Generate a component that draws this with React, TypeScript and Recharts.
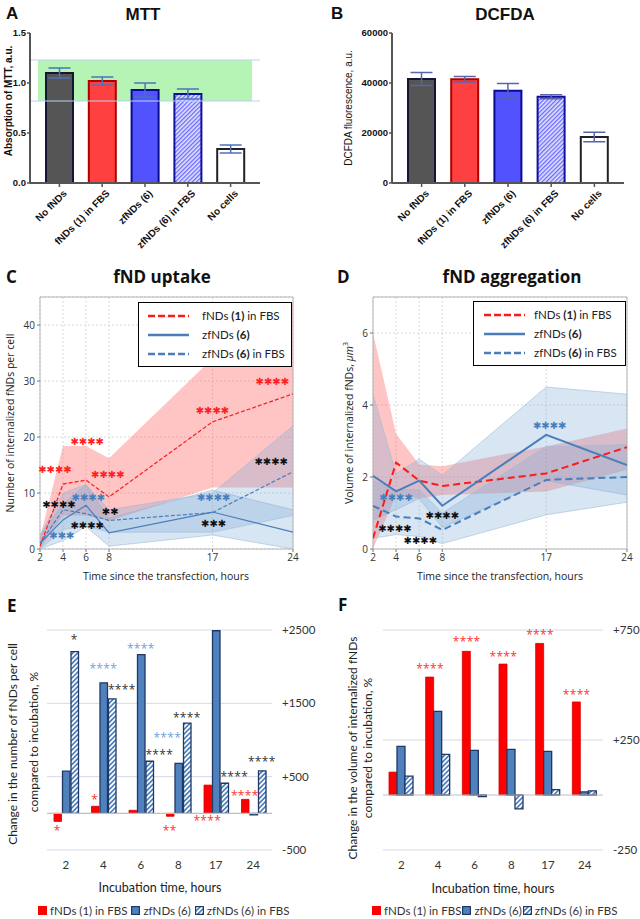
import React from 'react';
import {
  BarChart, Bar, XAxis, YAxis, ErrorBar, Cell, ReferenceArea, ReferenceDot, ReferenceLine,
  ComposedChart, Area, Line, CartesianGrid, Legend,
} from 'recharts';

const ARIAL = '"Liberation Sans", Arial, sans-serif';
const OPEN = '"Open Sans", "DejaVu Sans", sans-serif';
const LATO = 'Lato, "Open Sans", sans-serif';
const SYMBOL = '"DejaVu Sans", sans-serif';

// ===================== DATA =====================
// Panels A & B
const treatments = ['No fNDs', 'fNDs (1) in FBS', 'zfNDs (6)', 'zfNDs (6) in FBS', 'No cells'];
const mttMean = [1.10, 1.02, 0.93, 0.89, 0.34];
const mttSd = [0.05, 0.04, 0.07, 0.05, 0.04];
const mttTicks = [0, 0.5, 1.0, 1.5];
const viabilityRange = [0.82, 1.23];
const dcfdaMean = [41600, 41500, 36900, 34500, 18400];
const dcfdaSd = [2600, 1100, 2900, 800, 1900];
const dcfdaTicks = [0, 20000, 40000, 60000];

// Panels C & D
const hours = [2, 4, 6, 8, 17, 24];
const lineSeries = ['fNDs (1) in FBS', 'zfNDs (6)', 'zfNDs (6) in FBS'];

const uptakeF1 = [0.5, 11.6, 12.3, 9.3, 22.7, 27.7];
const uptakeF1Lo = [0, 6, 6, 5, 11, 11];
const uptakeF1Hi = [2, 18.4, 18.4, 16.2, 34, 44];
const uptakeZ6 = [1.0, 5.2, 7.8, 2.9, 6.6, 3.0];
const uptakeZ6Lo = [0, 1.5, 4, 0.5, 2.5, 0];
const uptakeZ6Hi = [2.5, 8, 11.5, 5.5, 10.5, 7];
const uptakeZ6F = [1.0, 7.0, 6.3, 5.1, 6.5, 13.8];
const uptakeZ6FLo = [0, 3.5, 4, 3, 3, 6];
const uptakeZ6FHi = [2.5, 10, 11.5, 7, 10, 22];
const uptakeTicks = [0, 10, 20, 30, 40];

const volF1 = [0.3, 2.4, 1.9, 1.75, 2.1, 2.83];
const volF1Lo = [0, 1.5, 1.4, 1.5, 1.6, 2.2];
const volF1Hi = [6.0, 3.2, 2.35, 2.3, 2.85, 3.35];
const volZ6 = [2.03, 1.6, 1.9, 1.2, 3.17, 2.33];
const volZ6Lo = [0.8, 1.1, 1.4, 0.6, 1.9, 1.5];
const volZ6Hi = [4.3, 2.1, 2.5, 2.05, 4.5, 4.3];
const volZ6F = [1.2, 0.9, 0.85, 0.53, 1.92, 2.0];
const volZ6FLo = [0.3, 0.4, 0.35, 0.15, 0.95, 1.3];
const volZ6FHi = [1.9, 1.65, 1.65, 1.0, 2.85, 2.9];
const volTicks = [0, 2, 4, 6];

// significance marks: time, value, text, group
const uptakeStars = [
  { t: 3.3, v: 14.3, text: '****', group: 'fnd1' },
  { t: 6.1, v: 19.3, text: '****', group: 'fnd1' },
  { t: 7.9, v: 13.4, text: '****', group: 'fnd1' },
  { t: 17.0, v: 24.8, text: '****', group: 'fnd1' },
  { t: 22.2, v: 30.0, text: '****', group: 'fnd1' },
  { t: 22.1, v: 15.7, text: '****', group: 'pair' },
  { t: 3.65, v: 7.9, text: '****', group: 'pair' },
  { t: 6.2, v: 9.3, text: '****', group: 'zf6' },
  { t: 8.1, v: 6.8, text: '**', group: 'pair' },
  { t: 6.1, v: 4.3, text: '****', group: 'pair' },
  { t: 3.9, v: 2.5, text: '***', group: 'zf6' },
  { t: 17.1, v: 9.3, text: '****', group: 'zf6' },
  { t: 17.1, v: 4.5, text: '***', group: 'pair' },
];
const volStars = [
  { t: 17.3, v: 3.42, text: '****', group: 'zf6' },
  { t: 4.0, v: 1.44, text: '****', group: 'zf6' },
  { t: 8.0, v: 0.92, text: '****', group: 'pair' },
  { t: 3.9, v: 0.56, text: '****', group: 'pair' },
  { t: 6.1, v: 0.25, text: '****', group: 'pair' },
];

// Panels E & F
const incubation = ['2', '4', '6', '8', '17', '24'];
const barSeries = ['fNDs (1) in FBS', 'zfNDs (6)', 'zfNDs (6) in FBS'];
const countF1 = [-110, 96, 41, -40, 385, 190];
const countZ6 = [575, 1780, 2165, 680, 2490, -20];
const countZ6F = [2205, 1560, 710, 1230, 410, 580];
const countTicks = [-500, 500, 1500, 2500];
const volChgF1 = [104, 536, 653, 595, 689, 423];
const volChgZ6 = [221, 380, 203, 207, 198, 14];
const volChgZ6F = [86, 185, -7, -63, 24, 19];
const volChgTicks = [-250, 250, 750];

const countStars = [
  { cat: '2', series: 'z6f', v: 2410, text: '*', group: 'pair', side: 'top' },
  { cat: '4', series: 'z6', v: 2014, text: '****', group: 'zf6', side: 'top' },
  { cat: '4', series: 'z6f', v: 1726, text: '****', group: 'pair', side: 'right' },
  { cat: '6', series: 'z6', v: 2288, text: '****', group: 'zf6', side: 'top' },
  { cat: '17', series: 'z6', v: 2630, text: '****', group: 'zf6', side: 'top' },
  { cat: '8', series: 'z6f', v: 1342, text: '****', group: 'pair', side: 'top' },
  { cat: '8', series: 'z6', v: 1070, text: '****', group: 'zf6', side: 'left' },
  { cat: '6', series: 'z6f', v: 840, text: '****', group: 'pair', side: 'right' },
  { cat: '17', series: 'z6f', v: 534, text: '****', group: 'pair', side: 'right' },
  { cat: '24', series: 'z6f', v: 740, text: '****', group: 'pair', side: 'top' },
  { cat: '24', series: 'f1', v: 274, text: '****', group: 'fnd1', side: 'top' },
  { cat: '4', series: 'f1', v: 219, text: '*', group: 'fnd1', side: 'top' },
  { cat: '2', series: 'f1', v: -205, text: '*', group: 'fnd1', side: 'top' },
  { cat: '8', series: 'f1', v: -205, text: '**', group: 'fnd1', side: 'top' },
  { cat: '17', series: 'f1', v: -68, text: '****', group: 'fnd1', side: 'top' },
];
const volChgStars = [
  { cat: '4', series: 'f1', v: 585, text: '****', group: 'fnd1', side: 'top' },
  { cat: '6', series: 'f1', v: 707, text: '****', group: 'fnd1', side: 'top' },
  { cat: '8', series: 'f1', v: 640, text: '****', group: 'fnd1', side: 'top' },
  { cat: '17', series: 'f1', v: 739, text: '****', group: 'fnd1', side: 'top' },
  { cat: '24', series: 'f1', v: 468, text: '****', group: 'fnd1', side: 'top' },
];

// ===================== STYLES =====================
const treatmentFillA = ['#555555', '#ff4040', '#5252ff', 'url(#hatchA)', '#ffffff'];
const treatmentFillB = ['#555555', '#ff4040', '#5252ff', 'url(#hatchB)', '#ffffff'];
const treatmentStroke = ['#151535', '#b00000', '#0a0a90', '#1010a0', '#222222'];
const lineColors = ['#ff1a1a', '#4a7ebb', '#4a7ebb'];
const lineDashes = ['7 3', undefined, '7 3'];
const starColorCD: Record<string, string> = { fnd1: '#ff2020', zf6: '#4a7ebb', pair: '#111111' };
const starColorEF: Record<string, string> = { fnd1: '#ff3030', zf6: '#6f9fdc', pair: '#333333' };
const seriesIndex: Record<string, number> = { f1: 0, z6: 1, z6f: 2 };
const sideShift: Record<string, number> = { top: 0, right: 10, left: -11 };

// ===================== HELPERS =====================
function RichName({ name }: { name: string }) {
  const parts = name.split(/(\(\d+\))/);
  return (
    <>
      {parts.map((p, i) => (/^\(\d+\)$/.test(p) ? <b key={i}>{p}</b> : <span key={i}>{p}</span>))}
    </>
  );
}

function AngledTick(props: any) {
  const { x, y, payload } = props;
  const ax = x + 3;
  const ay = y;
  return (
    <text x={ax} y={ay} transform={`rotate(-45 ${ax} ${ay})`} textAnchor="end" dominantBaseline="hanging"
      fontFamily={ARIAL} fontWeight={700} fontSize={10} fill="#111">
      {payload.value}
    </text>
  );
}

function TreatmentChart({ means, sds, ticks, fmt, yWidth, marginRight, band, fills, hatchId, errColor }: any) {
  const data = treatments.map((name, i) => ({ name, mean: means[i], sd: sds[i] }));
  return (
    <BarChart width={320} height={256} data={data} margin={{ top: 33, right: marginRight, bottom: 0, left: 0 }}>
      <defs>
        <pattern id={hatchId} width={3} height={3} patternUnits="userSpaceOnUse" patternTransform="rotate(45)">
          <rect width={3} height={3} fill="#e2e3ff" />
          <rect width={1.3} height={3} fill="#6a6aff" />
        </pattern>
      </defs>
      {band && <ReferenceArea y1={band[0]} y2={band[1]} fill="#aef3ae" fillOpacity={0.9} stroke="none" />}
      {band && <ReferenceLine y={band[0]} stroke="#b9d3ee" strokeWidth={1} />}
      {band && <ReferenceLine y={band[1]} stroke="#b9d3ee" strokeWidth={1} />}
      <XAxis dataKey="name" interval={0} height={73} padding={{ left: 8, right: 8 }} tick={<AngledTick />}
        tickSize={4} axisLine={{ stroke: '#555', strokeWidth: 2 }} tickLine={{ stroke: '#555', strokeWidth: 1.5 }} />
      <YAxis width={yWidth} domain={[0, ticks[ticks.length - 1]]} ticks={ticks} interval={0} tickFormatter={fmt}
        tickSize={3} tickMargin={1} axisLine={{ stroke: '#555', strokeWidth: 2 }} tickLine={{ stroke: '#555', strokeWidth: 1.5 }}
        tick={{ fontFamily: ARIAL, fontWeight: 700, fontSize: 9.5, fill: '#111' }} />
      <Bar dataKey="mean" barSize={27} strokeWidth={2} isAnimationActive={false}>
        {data.map((d, i) => (
          <Cell key={d.name} fill={fills[i]} stroke={treatmentStroke[i]} />
        ))}
        <ErrorBar dataKey="sd" width={11} stroke={errColor} strokeWidth={1.5} />
      </Bar>
    </BarChart>
  );
}

function LineLegend({ sampleLeft, sampleWidth, textLeft, strokeW }: any) {
  return (
    <div style={{ border: '1px solid #000', background: '#fff', padding: '3px 0 3px 0', fontFamily: LATO, fontSize: 11.5, color: '#222', boxSizing: 'border-box' }}>
      {lineSeries.map((n, i) => (
        <div key={n} style={{ display: 'flex', alignItems: 'center', height: 19, whiteSpace: 'nowrap' }}>
          <svg width={textLeft} height={8} style={{ flex: 'none' }}>
            <line x1={sampleLeft} y1={4} x2={sampleLeft + sampleWidth} y2={4} stroke={lineColors[i]} strokeWidth={strokeW}
              strokeDasharray={lineDashes[i]} />
          </svg>
          <span><RichName name={n} /></span>
        </div>
      ))}
    </div>
  );
}

function starText(s: string) {
  return s.replace(/\*/g, '\u2731');
}

function TimeCourse({ rows, yMax, yTicks, stars, lineW, dash, legendPos, legendCfg, rightMargin, yWidth }: any) {
  return (
    <ComposedChart width={320} height={350} data={rows} margin={{ top: 57, right: rightMargin, left: 0, bottom: 0 }}>
      <CartesianGrid stroke="#d9d9d9" strokeDasharray="2 2" />
      <XAxis dataKey="t" type="number" domain={[2, 24]} ticks={hours} interval={0} allowDataOverflow height={41}
        axisLine={false} tickSize={3} tickMargin={2} tickLine={{ stroke: '#777' }}
        tick={{ fontFamily: OPEN, fontSize: 10, fill: '#333' }} />
      <YAxis type="number" domain={[0, yMax]} ticks={yTicks} interval={0} allowDataOverflow width={yWidth}
        axisLine={false} tickSize={3} tickMargin={2} tickLine={{ stroke: '#777' }}
        tick={{ fontFamily: OPEN, fontSize: 10, fill: '#333' }} />
      <Area type="linear" dataKey="f1Band" stroke="none" fill="#ff5c5c" fillOpacity={0.36} isAnimationActive={false} />
      <Area type="linear" dataKey="z6Band" stroke="#9dbcdc" strokeWidth={0.6} fill="#7fa8d4" fillOpacity={0.3} isAnimationActive={false} />
      <Area type="linear" dataKey="z6fBand" stroke="#9dbcdc" strokeWidth={0.6} fill="#7fa8d4" fillOpacity={0.3} isAnimationActive={false} />
      <Line type="linear" dataKey="f1" stroke={lineColors[0]} strokeWidth={lineW} strokeDasharray={dash} dot={false} isAnimationActive={false} />
      <Line type="linear" dataKey="z6" stroke={lineColors[1]} strokeWidth={lineW} dot={false} isAnimationActive={false} />
      <Line type="linear" dataKey="z6f" stroke={lineColors[2]} strokeWidth={lineW} strokeDasharray={dash} dot={false} isAnimationActive={false} />
      <ReferenceArea x1={2} x2={24} y1={0} y2={yMax} fill="none" stroke="#b5b5b5" strokeWidth={1} />
      {stars.map((s: any, i: number) => (
        <ReferenceDot key={i} x={s.t} y={s.v} r={0}
          shape={(p: any) => (
            <text x={p.cx} y={p.cy + 3.6} textAnchor="middle" fontFamily={SYMBOL} fontSize={10} fill={starColorCD[s.group]}>
              {starText(s.text)}
            </text>
          )} />
      ))}
      <Legend layout="vertical" align="center" verticalAlign="middle"
        wrapperStyle={{ left: legendPos.left, top: legendPos.top, width: legendPos.width }}
        content={<LineLegend {...legendCfg} />} />
    </ComposedChart>
  );
}

function Swatch({ kind, hatchId }: any) {
  const fill = kind === 0 ? '#ff0000' : kind === 1 ? '#4f81bd' : `url(#${hatchId})`;
  const stroke = kind === 0 ? '#ff0000' : '#1f3864';
  return (
    <svg width={9} height={9} style={{ flex: 'none', marginRight: 3 }}>
      <rect x={0.6} y={0.6} width={7.8} height={7.8} fill={fill} stroke={stroke} strokeWidth={1.2} />
    </svg>
  );
}

function BarLegend({ hatchId, gap }: any) {
  return (
    <div style={{ display: 'flex', alignItems: 'center', fontFamily: LATO, fontSize: 11.5, color: '#333', whiteSpace: 'nowrap' }}>
      {barSeries.map((n, i) => (
        <div key={n} style={{ display: 'flex', alignItems: 'center', marginRight: gap }}>
          <Swatch kind={i} hatchId={hatchId} />
          <span>{n}</span>
        </div>
      ))}
    </div>
  );
}

function ChangeChart({ f1, z6, z6f, ticks, stars, hatchId, marginLeft, yWidth, barSize, barGap, legendPos, legendGap }: any) {
  const rows = incubation.map((cat, i) => ({ cat, f1: f1[i], z6: z6[i], z6f: z6f[i] }));
  const pitch = barSize + barGap;
  const fmt = (v: number) => (v > 0 ? `+${v}` : `${v}`);
  return (
    <BarChart width={320} height={329} data={rows} margin={{ top: 40, right: 0, left: marginLeft, bottom: 0 }}
      barSize={barSize} barGap={barGap}>
      <defs>
        <pattern id={hatchId} width={3.4} height={3.4} patternUnits="userSpaceOnUse" patternTransform="rotate(45)">
          <rect width={3.4} height={3.4} fill="#ffffff" />
          <rect width={1.7} height={3.4} fill="#4f81bd" />
        </pattern>
      </defs>
      <CartesianGrid vertical={false} stroke="#d6dae6" />
      <XAxis dataKey="cat" height={69} axisLine={false} tickLine={false} tickMargin={5} interval={0}
        tick={{ fontFamily: LATO, fontSize: 11.5, fill: '#333' }} />
      <YAxis orientation="right" width={yWidth} domain={[ticks[0], ticks[ticks.length - 1]]} ticks={ticks} interval={0}
        axisLine={false} tickLine={false} tickMargin={4} tickFormatter={fmt}
        tick={{ fontFamily: LATO, fontSize: 11.5, fill: '#333' }} />
      <ReferenceLine y={0} stroke="#bfbfbf" strokeWidth={1.2} />
      <Bar dataKey="f1" fill="#ff0000" stroke="#d00000" strokeWidth={0.8} isAnimationActive={false} />
      <Bar dataKey="z6" fill="#4f81bd" stroke="#1f3864" strokeWidth={1.3} isAnimationActive={false} />
      <Bar dataKey="z6f" fill={`url(#${hatchId})`} stroke="#1f3864" strokeWidth={1.3} isAnimationActive={false} />
      {stars.map((s: any, i: number) => (
        <ReferenceDot key={i} x={s.cat} y={s.v} r={0}
          shape={(p: any) => (
            <text x={p.cx + (seriesIndex[s.series] - 1) * pitch + sideShift[s.side]} y={p.cy + 7}
              textAnchor="middle" fontFamily={OPEN} fontSize={12} letterSpacing={0.3} fill={starColorEF[s.group]}>
              {s.text}
            </text>
          )} />
      ))}
      <Legend layout="vertical" align="center" verticalAlign="middle"
        wrapperStyle={{ left: legendPos.left, top: legendPos.top, width: legendPos.width }}
        content={<BarLegend hatchId={hatchId} gap={legendGap} />} />
    </BarChart>
  );
}

const uptakeRows = hours.map((t, i) => ({
  t,
  f1: uptakeF1[i], f1Band: [uptakeF1Lo[i], uptakeF1Hi[i]],
  z6: uptakeZ6[i], z6Band: [uptakeZ6Lo[i], uptakeZ6Hi[i]],
  z6f: uptakeZ6F[i], z6fBand: [uptakeZ6FLo[i], uptakeZ6FHi[i]],
}));
const volRows = hours.map((t, i) => ({
  t,
  f1: volF1[i], f1Band: [volF1Lo[i], volF1Hi[i]],
  z6: volZ6[i], z6Band: [volZ6Lo[i], volZ6Hi[i]],
  z6f: volZ6F[i], z6fBand: [volZ6FLo[i], volZ6FHi[i]],
}));

function VText({ x, y, size, family, weight, children, fill = '#222' }: any) {
  return (
    <text transform={`translate(${x},${y}) rotate(-90)`} textAnchor="middle" dominantBaseline="central"
      fontFamily={family} fontSize={size} fontWeight={weight} fill={fill}>
      {children}
    </text>
  );
}

export default function App() {
  return (
    <div style={{ position: 'absolute', left: 0, top: 0, width: 640, height: 919, background: '#fff', overflow: 'hidden' }}>
      <div style={{ position: 'absolute', left: 0, top: 0 }}>
        <TreatmentChart means={mttMean} sds={mttSd} ticks={mttTicks} fmt={(v: number) => v.toFixed(1)} yWidth={30}
          marginRight={60} band={viabilityRange} fills={treatmentFillA} hatchId="hatchA" errColor="#4f72b8" />
      </div>
      <div style={{ position: 'absolute', left: 320, top: 0 }}>
        <TreatmentChart means={dcfdaMean} sds={dcfdaSd} ticks={dcfdaTicks} fmt={(v: number) => String(v)} yWidth={72}
          marginRight={16} band={null} fills={treatmentFillB} hatchId="hatchB" errColor="#5a64a8" />
      </div>
      <div style={{ position: 'absolute', left: 0, top: 240 }}>
        <TimeCourse rows={uptakeRows} yMax={45} yTicks={uptakeTicks} stars={uptakeStars} lineW={1.2} dash="4 2"
          rightMargin={27} yWidth={40}
          legendPos={{ left: 138, top: 62, width: 154 }}
          legendCfg={{ sampleLeft: 9, sampleWidth: 41, textLeft: 63, strokeW: 2.6 }} />
      </div>
      <div style={{ position: 'absolute', left: 320, top: 240 }}>
        <TimeCourse rows={volRows} yMax={7} yTicks={volTicks} stars={volStars} lineW={2} dash="7 4"
          rightMargin={13} yWidth={53}
          legendPos={{ left: 153, top: 61, width: 153 }}
          legendCfg={{ sampleLeft: 10, sampleWidth: 41, textLeft: 60, strokeW: 2.4 }} />
      </div>
      <div style={{ position: 'absolute', left: 0, top: 590 }}>
        <ChangeChart f1={countF1} z6={countZ6} z6f={countZ6F} ticks={countTicks} stars={countStars} hatchId="hatchE"
          marginLeft={47} yWidth={48} barSize={7.5} barGap={1}
          legendPos={{ left: 38, top: 314, width: 282 }} legendGap={4} />
      </div>
      <div style={{ position: 'absolute', left: 320, top: 590 }}>
        <ChangeChart f1={volChgF1} z6={volChgZ6} z6f={volChgZ6F} ticks={volChgTicks} stars={volChgStars} hatchId="hatchF"
          marginLeft={63} yWidth={37} barSize={8} barGap={0}
          legendPos={{ left: 52, top: 314, width: 268 }} legendGap={1} />
      </div>

      <svg width={640} height={919} style={{ position: 'absolute', left: 0, top: 0, pointerEvents: 'none' }}>
        {/* A & B */}
        <text x={6} y={19} fontFamily={ARIAL} fontWeight={700} fontSize={17} fill="#111">A</text>
        <text x={143} y={20} textAnchor="middle" fontFamily={ARIAL} fontWeight={700} fontSize={17} fill="#111">MTT</text>
        <text x={331} y={19} fontFamily={ARIAL} fontWeight={700} fontSize={17} fill="#111">B</text>
        <text x={505} y={20} textAnchor="middle" fontFamily={ARIAL} fontWeight={700} fontSize={17} fill="#111">DCFDA</text>
        <VText x={8} y={101} size={10} family={ARIAL} weight={700} fill="#111">Absorption of MTT, a.u.</VText>
        <VText x={348} y={108} size={10} family={ARIAL} weight={400} fill="#111">DCFDA fluorescence, a.u.</VText>

        {/* C & D */}
        <text x={6} y={283} fontFamily={OPEN} fontWeight={700} fontSize={17} fill="#111">C</text>
        <text x={162} y={283} textAnchor="middle" fontFamily={OPEN} fontWeight={700} fontSize={17} fill="#111">fND uptake</text>
        <text x={337} y={283} fontFamily={OPEN} fontWeight={700} fontSize={17} fill="#111">D</text>
        <text x={512} y={283} textAnchor="middle" fontFamily={OPEN} fontWeight={700} fontSize={17} fill="#111">fND aggregation</text>
        <VText x={10} y={423} size={10.5} family={OPEN} weight={400}>Number of internalized fNDs per cell</VText>
        <text x={166} y={580} textAnchor="middle" fontFamily={OPEN} fontSize={10.5} fill="#222">Time since the transfection, hours</text>
        <VText x={349} y={423} size={10.5} family={OPEN} weight={400}>
          Volume of internalized fNDs, <tspan fontStyle="italic">μm</tspan><tspan fontSize={7} dy={-4}>3</tspan>
        </VText>
        <text x={500} y={580} textAnchor="middle" fontFamily={OPEN} fontSize={10.5} fill="#222">Time since the transfection, hours</text>

        {/* E & F */}
        <text x={7} y={612} fontFamily={OPEN} fontWeight={700} fontSize={17} fill="#111">E</text>
        <text x={338} y={611} fontFamily={OPEN} fontWeight={700} fontSize={17} fill="#111">F</text>
        <VText x={12} y={744} size={12} family={LATO} weight={400}>Change in the number of  fNDs per cell</VText>
        <VText x={33} y={742} size={12} family={LATO} weight={400}>compared to incubation, %</VText>
        <text x={160} y={892} textAnchor="middle" fontFamily={LATO} fontSize={12.5} fill="#222">Incubation time, hours</text>
        <VText x={352} y={748} size={12} family={LATO} weight={400}>Change in the volume of internalized fNDs</VText>
        <VText x={367} y={748} size={12} family={LATO} weight={400}>compared to incubation, %</VText>
        <text x={493} y={893} textAnchor="middle" fontFamily={LATO} fontSize={12.5} fill="#222">Incubation time, hours</text>
      </svg>
    </div>
  );
}
